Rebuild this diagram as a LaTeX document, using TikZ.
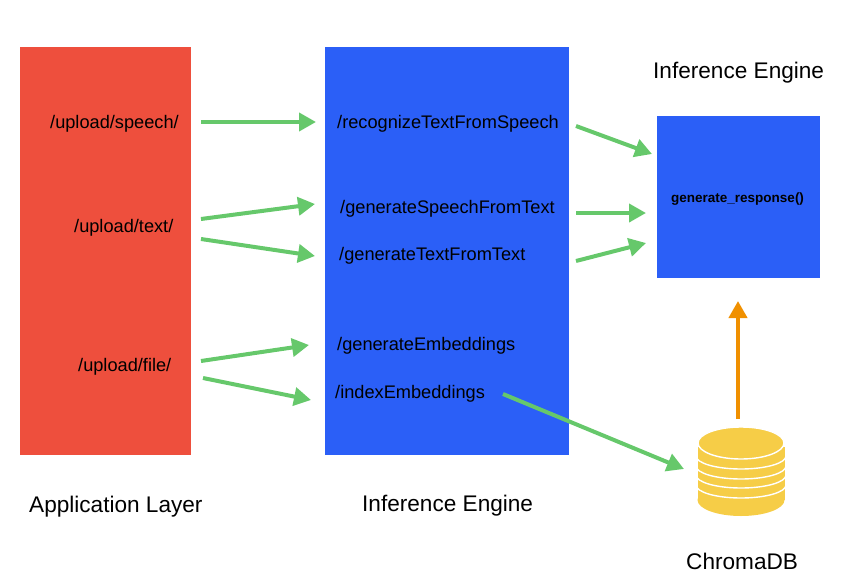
\documentclass[tikz,border=0pt]{standalone}
\usepackage{fontspec}
\setmainfont{Liberation Sans}
\usetikzlibrary{arrows.meta}
\definecolor{applyred}{HTML}{EE4F3D}
\definecolor{engineblue}{HTML}{2B5FF7}
\definecolor{flowgreen}{HTML}{66C86B}
\definecolor{dbyellow}{HTML}{F6CD47}
\definecolor{uporange}{HTML}{F09000}
\tikzset{
  block/.style={draw=none,inner sep=0pt,anchor=north west},
  route/.style={anchor=base west,inner sep=0pt,font=\fontsize{18.2}{21}\selectfont},
  caption/.style={anchor=base west,inner sep=0pt,font=\fontsize{22.6}{26}\selectfont},
  flow/.style={draw=flowgreen,line width=4pt,-{Triangle[length=17pt,width=18pt]}},
  upflow/.style={draw=uporange,line width=4pt,-{Triangle[length=17pt,width=18pt]}},
  discline/.style={draw=white,line width=1.4pt}
}
\begin{document}
\begin{tikzpicture}[x=1pt,y=-1pt]
      \useasboundingbox (0,0) rectangle (846,586);

      \node [block,fill=applyred,minimum width=171pt,minimum height=408pt] (app) at (20,47) {};
      \node [block,fill=engineblue,minimum width=244pt,minimum height=408pt] (engine) at (325,47) {};
      \node [block,fill=engineblue,minimum width=163pt,minimum height=162pt] (respbox) at (657,116) {};

      \node [route] (speech) at (50,128) {/upload/speech/};
      \node [route] (text) at (74,232) {/upload/text/};
      \node [route] (file) at (78,371) {/upload/file/};

      \node [route] (recog) at (337,128) {/recognizeTextFromSpeech};
      \node [route] (genspeech) at (340,213) {/generateSpeechFromText};
      \node [route] (gentext) at (339,260) {/generateTextFromText};
      \node [route] (genembed) at (337,350) {/generateEmbeddings};
      \node [route] (index) at (335,398) {/indexEmbeddings};

      \node [anchor=base west,inner sep=0pt,font=\fontsize{13.5}{15}\selectfont\bfseries] (resp) at (671,202) {generate\_response()};

      \node [caption] (applabel) at (29,512) {Application Layer};
      \node [caption] (enginelabel) at (362,511) {Inference Engine};
      \node [caption] (resplabel) at (653,78.5) {Inference Engine};
      \node [caption] (dblabel) at (686,569) {ChromaDB};

      % database, body first and then the lines between the discs
      \fill [dbyellow] (697.5,447) rectangle (784.5,500);
      \fill [dbyellow] (741,500) ellipse [x radius=43.5,y radius=16];
      \foreach \discy in {456,466,475,485} {
        \draw [discline] (696,\discy) arc [start angle=180,end angle=0,x radius=45,y radius=13];
      }
      \fill [dbyellow,draw=white,line width=1.4pt] (741,443) ellipse [x radius=43,y radius=16];

      \coordinate (s1) at (201,122);  \coordinate (e1) at (316,122);
      \coordinate (s2) at (201,219);  \coordinate (e2) at (315,204);
      \coordinate (s3) at (201,239);  \coordinate (e3) at (315,256);
      \coordinate (s4) at (201,361);  \coordinate (e4) at (309,345);
      \coordinate (s5) at (203,378);  \coordinate (e5) at (311,400);
      \coordinate (s6) at (576,126);  \coordinate (e6) at (652,154);
      \coordinate (s7) at (576,213);  \coordinate (e7) at (646,213);
      \coordinate (s8) at (576,261);  \coordinate (e8) at (646,243);
      \coordinate (s9) at (503,394);  \coordinate (e9) at (684,469);
      \coordinate (s10) at (738,419); \coordinate (e10) at (738,301);

      \foreach \n in {1,...,9} {
        \draw [flow] (s\n) -- (e\n);
      }
      \draw [upflow] (s10) -- (e10);
    \end{tikzpicture}
\end{document}
